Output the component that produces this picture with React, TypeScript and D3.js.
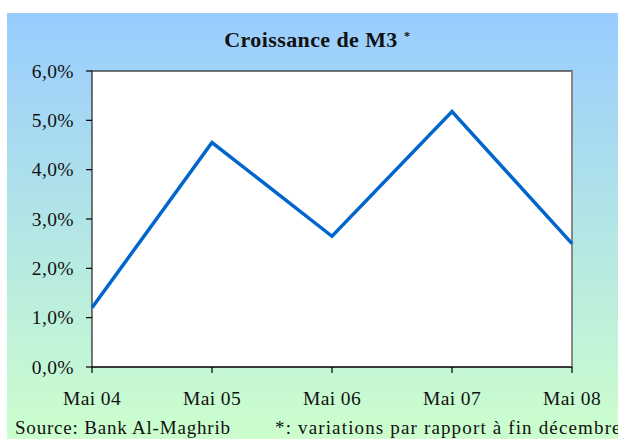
import React from 'react';
import * as d3 from 'd3';

// données
const categories = ['Mai 04', 'Mai 05', 'Mai 06', 'Mai 07', 'Mai 08'];
const croissanceM3 = [1.2, 4.55, 2.65, 5.18, 2.5];
const yTicks = [0, 1, 2, 3, 4, 5, 6];

const title = 'Croissance de M3';
const sourceText = 'Source: Bank Al-Maghrib';
const noteText = '*: variations par rapport à fin décembre';

const W = 618;
const H = 439;
const plot = { left: 92, right: 572, top: 71, bottom: 367 };
const font = '"Liberation Serif", "Times New Roman", serif';

const fmt = (v: number) => v.toFixed(1).replace('.', ',') + '%';

const App = () => {
  const x = d3.scalePoint<string>()
    .domain(categories)
    .range([plot.left, plot.right]);

  const y = d3.scaleLinear()
    .domain([0, 6])
    .range([plot.bottom, plot.top]);

  const line = d3.line<number>()
    .x((_, i) => x(categories[i]) as number)
    .y(d => y(d));

  return (
    <svg width={W} height={H} style={{ position: 'absolute', left: 0, top: 0 }}>
      <defs>
        <linearGradient id="bg" x1="0" y1="0" x2="0" y2="1">
          <stop offset="0%" stopColor="#99CCFF" />
          <stop offset="100%" stopColor="#CCFFCC" />
        </linearGradient>
      </defs>
      <rect x={7} y={13} width={W - 7} height={H - 13} fill="url(#bg)" />

      {/* titre */}
      <text x={311} y={47} textAnchor="middle" fontFamily={font} fontWeight="bold" fontSize={22}
        letterSpacing={0.4} fill="#111">{title}</text>
      <text x={404} y={40} fontFamily={font} fontWeight="bold" fontSize={12} fill="#111">*</text>

      {/* zone de tracé */}
      <rect x={plot.left} y={plot.top} width={plot.right - plot.left} height={plot.bottom - plot.top}
        fill="#fff" stroke="#222" strokeWidth={1.2} />
      <line x1={plot.right} x2={plot.right} y1={plot.top} y2={plot.bottom} stroke="#888" strokeWidth={2} />
      <line x1={plot.left} x2={plot.right} y1={plot.bottom} y2={plot.bottom} stroke="#000" strokeWidth={1.2} />

      {/* axe Y */}
      {yTicks.map(t => (
        <g key={t}>
          <line x1={plot.left - 6} x2={plot.left} y1={y(t)} y2={y(t)} stroke="#000" strokeWidth={1.2} />
          <text x={74} y={y(t)} dy="0.35em" textAnchor="end" fontFamily={font} fontSize={19.5}
            letterSpacing={0.4} fill="#111">{fmt(t)}</text>
        </g>
      ))}

      {/* axe X */}
      {categories.map(c => (
        <g key={c}>
          <line x1={x(c)} x2={x(c)} y1={plot.bottom} y2={plot.bottom + 6} stroke="#000" strokeWidth={1.2} />
          <text x={x(c)} y={405} textAnchor="middle" fontFamily={font} fontSize={19.5}
            letterSpacing={0.4} fill="#111">{c}</text>
        </g>
      ))}

      <path d={line(croissanceM3) || ''} fill="none" stroke="#0066CC" strokeWidth={3.5}
        strokeLinejoin="miter" />

      {/* sources */}
      <text x={15} y={434} fontFamily={font} fontSize={19} letterSpacing={0.8} fill="#111">{sourceText}</text>
      <text x={275} y={434} fontFamily={font} fontSize={19} letterSpacing={1.15} fill="#111">{noteText}</text>
    </svg>
  );
};

export default App;
